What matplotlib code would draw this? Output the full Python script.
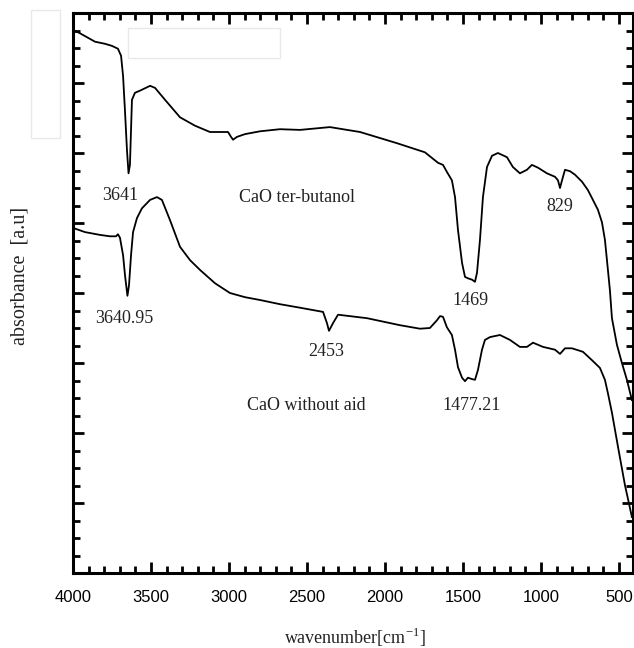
import numpy as np
import matplotlib
matplotlib.use("Agg")
import matplotlib.pyplot as plt
from matplotlib.ticker import MultipleLocator, NullFormatter
from matplotlib.patches import Rectangle

plt.rcParams['mathtext.fontset'] = 'custom'
plt.rcParams['mathtext.rm'] = 'Liberation Serif'

# spectrum: wavenumber [cm-1] and absorbance [a.u]
wn_butanol = [4000, 3955, 3891, 3859, 3795, 3750, 3712, 3692, 3679, 3667, 3654, 3644,
              3635, 3628, 3622, 3603, 3571, 3506, 3474, 3410, 3314, 3218, 3122, 3006,
              2987, 2974, 2949, 2897, 2801, 2673, 2545, 2353, 2160, 1923, 1744, 1660,
              1628, 1603, 1571, 1551, 1532, 1506, 1487, 1468, 1442, 1423, 1410, 1391,
              1372, 1346, 1314, 1276, 1218, 1180, 1135, 1090, 1058, 1019, 962, 910,
              891, 878, 865, 846, 814, 782, 737, 699, 667, 635, 609, 590, 577, 558,
              545, 513, 481, 449, 417]
abs_butanol = [7.76, 7.71, 7.63, 7.59, 7.56, 7.53, 7.49, 7.39, 7.10, 6.61, 6.04, 5.71,
               5.83, 6.33, 6.76, 6.86, 6.89, 6.96, 6.93, 6.76, 6.51, 6.39, 6.30, 6.30,
               6.23, 6.19, 6.23, 6.27, 6.31, 6.34, 6.33, 6.37, 6.30, 6.14, 6.01, 5.86,
               5.83, 5.73, 5.61, 5.37, 4.90, 4.43, 4.23, 4.21, 4.19, 4.16, 4.29, 4.76,
               5.37, 5.80, 5.96, 6.00, 5.94, 5.80, 5.71, 5.76, 5.83, 5.79, 5.71, 5.66,
               5.61, 5.50, 5.61, 5.76, 5.74, 5.69, 5.59, 5.47, 5.33, 5.19, 5.01, 4.76,
               4.47, 4.04, 3.64, 3.26, 3.00, 2.76, 2.47]

wn_noaid = [4000, 3923, 3827, 3763, 3724, 3712, 3699, 3679, 3667, 3651, 3641, 3628,
            3615, 3590, 3558, 3506, 3462, 3430, 3378, 3314, 3250, 3186, 3090, 2994,
            2897, 2801, 2673, 2545, 2397, 2372, 2359, 2333, 2301, 2115, 1904, 1776,
            1712, 1667, 1647, 1628, 1603, 1571, 1551, 1532, 1506, 1487, 1468, 1442,
            1423, 1404, 1378, 1359, 1327, 1263, 1199, 1135, 1090, 1051, 987, 910,
            878, 846, 801, 731, 673, 622, 590, 571, 545, 506, 462, 417]
abs_noaid = [4.93, 4.87, 4.83, 4.81, 4.81, 4.84, 4.79, 4.54, 4.26, 3.96, 4.11, 4.54,
             4.87, 5.07, 5.21, 5.33, 5.37, 5.33, 5.04, 4.66, 4.47, 4.33, 4.14, 4.00,
             3.94, 3.90, 3.84, 3.79, 3.73, 3.57, 3.46, 3.57, 3.69, 3.64, 3.54, 3.49,
             3.50, 3.61, 3.67, 3.66, 3.51, 3.40, 3.19, 2.94, 2.79, 2.74, 2.79, 2.77,
             2.76, 2.90, 3.19, 3.33, 3.37, 3.40, 3.33, 3.23, 3.23, 3.29, 3.23, 3.19,
             3.13, 3.21, 3.21, 3.16, 3.04, 2.93, 2.76, 2.57, 2.29, 1.80, 1.26, 0.80]

# peak / sample labels (text, wavenumber, absorbance)
labels = [("3641", 3699, 5.40), ("CaO ter-butanol", 2564, 5.36), ("829", 878, 5.23),
          ("1469", 1455, 3.89), ("3640.95", 3673, 3.64), ("2453", 2378, 3.16),
          ("CaO without aid", 2506, 2.40), ("1477.21", 1442, 2.40)]

W, H = 634, 648
fig = plt.figure(figsize=(W / 100, H / 100), dpi=100)
ax = fig.add_axes([73 / W, 75 / H, 560 / W, 560 / H])

ax.plot(wn_butanol, abs_butanol, color='black', lw=1.3)
ax.plot(wn_noaid, abs_noaid, color='black', lw=1.3)

for txt, x, y in labels:
    ax.text(x, y, txt, ha='center', va='center', fontsize=13,
            family='Liberation Serif', color='#222222')

ax.set_xlim(4000, 410)
ax.set_ylim(0, 8)
ax.xaxis.set_major_locator(MultipleLocator(500))
ax.xaxis.set_minor_locator(MultipleLocator(100))
ax.yaxis.set_major_locator(MultipleLocator(1))
ax.yaxis.set_minor_locator(MultipleLocator(0.25))
ax.yaxis.set_major_formatter(NullFormatter())

ax.tick_params(which='both', direction='in', top=True, right=True, width=2)
ax.tick_params(which='major', length=8)
ax.tick_params(which='minor', length=5)
ax.tick_params(axis='x', which='major', pad=12, labelsize=12)
for lab in ax.get_xticklabels():
    lab.set_family('Liberation Sans')
for sp in ax.spines.values():
    sp.set_linewidth(2.2)

fig.text(20 / W, 1 - 276 / H, 'absorbance  [a.u]', rotation=90, ha='center', va='center',
         fontsize=14.5, family='Liberation Serif', color='#222222')
fig.text(355 / W, 1 - 644 / H, 'wavenumber[cm$^{\\mathregular{-1}}$]', ha='center',
         va='baseline', fontsize=13, family='Liberation Serif', color='#222222')

# faint empty boxes left over in the original figure
fig.patches.append(Rectangle((128 / W, 1 - 58 / H), 152 / W, 30 / H, transform=fig.transFigure,
                             fill=False, edgecolor='#e8e8e8', lw=1))
fig.patches.append(Rectangle((31 / W, 1 - 138 / H), 29 / W, 128 / H, transform=fig.transFigure,
                             fill=False, edgecolor='#e8e8e8', lw=1))

fig.savefig('out.png', dpi=100)
